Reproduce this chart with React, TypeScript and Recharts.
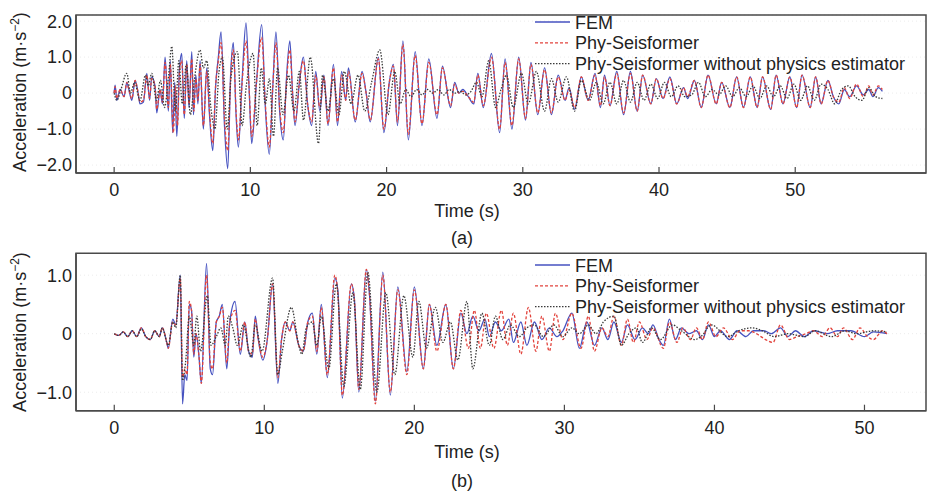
import { LineChart, Line, XAxis, YAxis, CartesianGrid, ReferenceArea } from 'recharts';

const FONT = '"Liberation Sans", Arial, Helvetica, sans-serif';

// (t [s], acceleration [m/s^2]) pairs
const femA: [number, number][] = [[0,0],[0.07,0.22],[0.2,-0.2],[0.44,0.1],[0.73,-0.1],[0.93,0.3],[1.05,0.15],[1.3,-0.2],[1.54,0.35],[1.74,0.05],[1.9,-0.3],[2.15,-0.25],[2.4,0.55],[2.6,-0.2],[2.76,0.45],[3.0,0.2],[3.13,-0.55],[3.37,0.1],[3.55,-0.3],[3.74,1.0],[3.98,-0.5],[4.12,0.9],[4.3,-1.1],[4.45,0.3],[4.6,-1.2],[4.8,0.7],[4.96,1.1],[5.15,-0.7],[5.33,0.9],[5.5,-0.4],[5.7,1.15],[5.82,-0.6],[6.0,0.5],[6.15,-0.3],[6.31,0.9],[6.55,-1.0],[6.8,0.7],[7.0,-0.6],[7.24,-1.6],[7.45,0.2],[7.65,1.0],[7.85,1.7],[8.1,-0.9],[8.34,-2.1],[8.55,0.5],[8.75,1.4],[8.95,-0.6],[9.12,-1.5],[9.4,0.4],[9.68,1.95],[9.9,0.2],[10.1,-1.4],[10.45,0.3],[10.83,1.9],[11.1,-0.4],[11.39,-1.7],[11.65,0.2],[11.88,1.7],[12.15,-0.5],[12.42,-1.3],[12.65,0.4],[12.9,1.45],[13.1,0.0],[13.28,-0.9],[13.6,0.3],[13.89,1.0],[14.2,-0.3],[14.5,-0.9],[14.8,0.6],[15.1,-0.5],[15.4,0.5],[15.7,-0.9],[16.1,0.8],[16.4,-0.9],[16.7,0.6],[17.0,-0.2],[17.2,0.7],[17.7,-0.8],[18.2,0.6],[18.5,0.0],[18.8,-0.8],[19.4,1.0],[19.8,-1.1],[20.2,0.3],[20.5,0.8],[20.8,-0.9],[21.2,1.45],[21.6,-1.3],[22.1,1.15],[22.6,-0.9],[23.1,0.95],[23.7,-0.7],[24.1,0.75],[24.7,-0.4],[25.0,0.3],[25.3,0.0],[25.6,0.1],[26.0,-0.1],[26.4,-0.3],[26.7,0.55],[27.1,-0.4],[27.7,1.1],[28.3,-1.1],[28.7,0.95],[29.2,-1.0],[29.7,1.0],[30.2,-0.75],[30.6,0.85],[31.1,-0.6],[31.6,0.7],[32.1,-0.6],[32.6,0.5],[33.1,-0.2],[33.4,0.15],[33.8,-0.45],[34.3,0.45],[34.8,-0.2],[35.3,0.55],[35.7,-0.4],[36.0,0.5],[36.4,-0.35],[36.9,0.6],[37.4,-0.6],[37.9,0.6],[38.4,-0.5],[38.8,0.5],[39.4,-0.3],[39.8,0.4],[40.3,-0.15],[40.8,0.45],[41.3,-0.3],[41.8,0.15],[42.1,-0.15],[42.6,0.35],[43.1,-0.4],[43.6,0.5],[44.2,-0.3],[44.6,0.3],[45.2,-0.4],[45.7,0.45],[46.2,-0.4],[46.7,0.45],[47.2,-0.4],[47.6,0.45],[48.2,-0.45],[48.6,0.5],[49.1,-0.3],[49.6,0.45],[50.1,-0.4],[50.5,0.5],[51.1,-0.4],[51.5,0.45],[51.9,-0.3],[52.4,0.35],[52.8,-0.1],[53.2,-0.3],[53.6,0.1],[54.0,-0.1],[54.5,0.2],[55.0,-0.05],[55.4,0.1],[55.7,-0.1],[56.1,0.15],[56.4,0.05]];

const phyA: [number, number][] = [[0,0],[0.07,0.18],[0.2,-0.15],[0.44,0.1],[0.73,-0.1],[0.93,0.3],[1.05,0.15],[1.3,-0.15],[1.54,0.35],[1.74,0.05],[1.9,-0.25],[2.15,-0.2],[2.4,0.5],[2.6,-0.15],[2.76,0.4],[3.0,0.2],[3.13,-0.45],[3.37,0.1],[3.55,-0.25],[3.74,0.85],[3.98,-0.4],[4.12,0.8],[4.35,-1.1],[4.5,0.2],[4.65,-0.9],[4.8,0.6],[4.96,0.9],[5.15,-0.6],[5.33,0.8],[5.5,-0.3],[5.7,0.95],[5.85,-0.5],[6.0,0.4],[6.15,-0.2],[6.31,0.8],[6.55,-0.9],[6.8,0.6],[7.0,-0.5],[7.24,-1.4],[7.45,0.2],[7.65,0.9],[7.85,1.4],[8.1,-0.7],[8.34,-1.6],[8.55,0.4],[8.75,1.2],[8.95,-0.5],[9.12,-1.3],[9.4,0.3],[9.68,1.45],[9.9,0.2],[10.1,-1.2],[10.45,0.3],[10.83,1.55],[11.1,-0.3],[11.39,-1.5],[11.65,0.2],[11.88,1.4],[12.15,-0.4],[12.42,-1.1],[12.65,0.3],[12.9,1.2],[13.1,0.0],[13.28,-0.8],[13.6,0.3],[13.89,0.9],[14.2,-0.3],[14.5,-0.8],[14.8,0.5],[15.1,-0.4],[15.4,0.45],[15.7,-0.85],[16.1,0.7],[16.4,-0.8],[16.7,0.5],[17.0,-0.2],[17.2,0.6],[17.7,-0.75],[18.2,0.55],[18.5,0.0],[18.8,-0.75],[19.4,0.95],[19.8,-1.0],[20.2,0.3],[20.5,0.75],[20.8,-0.8],[21.2,1.35],[21.6,-1.15],[22.1,1.05],[22.6,-0.85],[23.1,0.85],[23.7,-0.6],[24.1,0.7],[24.7,-0.35],[25.0,0.25],[25.3,0.0],[25.6,0.05],[26.0,-0.1],[26.4,-0.25],[26.7,0.5],[27.1,-0.35],[27.7,1.0],[28.3,-1.0],[28.7,0.85],[29.2,-0.9],[29.7,0.95],[30.2,-0.7],[30.6,0.8],[31.1,-0.55],[31.6,0.65],[32.1,-0.55],[32.6,0.45],[33.1,-0.2],[33.4,0.1],[33.8,-0.4],[34.3,0.45],[34.8,-0.2],[35.3,0.5],[35.7,-0.35],[36.0,0.45],[36.4,-0.35],[36.9,0.55],[37.4,-0.55],[37.9,0.55],[38.4,-0.5],[38.8,0.5],[39.4,-0.3],[39.8,0.4],[40.3,-0.15],[40.8,0.4],[41.3,-0.3],[41.8,0.15],[42.1,-0.1],[42.6,0.35],[43.1,-0.4],[43.6,0.5],[44.2,-0.3],[44.6,0.3],[45.2,-0.4],[45.7,0.45],[46.2,-0.4],[46.7,0.45],[47.2,-0.4],[47.6,0.45],[48.2,-0.45],[48.6,0.5],[49.1,-0.3],[49.6,0.45],[50.1,-0.4],[50.5,0.5],[51.1,-0.4],[51.5,0.45],[51.9,-0.3],[52.4,0.35],[52.8,-0.1],[53.2,-0.25],[53.6,0.15],[54.0,-0.15],[54.5,0.25],[55.0,-0.1],[55.4,0.2],[55.7,-0.05],[56.1,0.2],[56.4,0.1]];

const noPhyA: [number, number][] = [[0,0],[0.2,-0.2],[0.5,0.1],[0.93,0.55],[1.2,0.0],[1.5,0.3],[1.9,-0.2],[2.3,0.5],[2.5,0.2],[2.76,0.55],[3.1,-0.2],[3.4,0.35],[3.7,-0.4],[4.0,0.5],[4.23,1.3],[4.5,-0.5],[4.75,0.9],[5.0,-0.3],[5.3,0.8],[5.6,-0.6],[5.9,0.4],[6.31,1.2],[6.55,0.7],[6.8,0.9],[7.1,-0.4],[7.4,-1.0],[7.7,0.6],[7.95,1.0],[8.3,-1.0],[8.6,0.5],[9.05,1.15],[9.4,-0.9],[9.7,0.2],[10.2,1.1],[10.5,-0.9],[10.8,0.7],[11.1,-0.3],[11.4,0.4],[11.7,-1.2],[12.0,0.7],[12.4,-0.6],[12.8,0.5],[13.2,-0.5],[13.6,0.6],[13.9,-0.75],[14.4,1.0],[15.0,-1.4],[15.3,0.5],[15.7,-0.5],[16.1,0.4],[16.5,-0.6],[16.9,0.6],[17.4,-0.3],[17.9,0.5],[18.4,-0.5],[18.9,0.3],[19.5,1.2],[20.1,-0.6],[20.6,0.6],[21.0,-0.3],[21.4,0.1],[21.8,-0.1],[22.2,0.1],[22.6,-0.05],[23.0,0.1],[23.4,0.0],[23.8,0.1],[24.2,-0.05],[24.6,0.1],[25.0,0.0],[25.4,0.05],[25.8,-0.05],[26.2,0.05],[26.6,0.3],[27.0,-0.1],[27.5,0.9],[28.0,-0.4],[28.4,0.1],[28.8,0.5],[29.3,-0.4],[29.9,0.55],[30.4,-0.3],[31.0,0.6],[31.6,-0.5],[32.1,0.4],[32.6,-0.25],[33.2,0.45],[33.8,-0.5],[34.3,0.35],[34.9,-0.2],[35.4,0.3],[35.9,-0.3],[36.4,0.3],[36.9,-0.3],[37.4,0.35],[37.9,-0.25],[38.4,0.3],[38.9,-0.2],[39.4,0.25],[39.9,-0.15],[40.4,0.3],[40.9,-0.1],[41.4,0.2],[41.9,-0.1],[42.4,-0.05],[42.9,0.3],[43.4,-0.1],[43.9,0.1],[44.4,-0.05],[44.9,0.2],[45.4,-0.1],[45.9,0.15],[46.4,-0.1],[46.9,0.2],[47.4,-0.15],[47.9,0.2],[48.4,-0.1],[48.9,0.2],[49.4,-0.15],[49.9,0.25],[50.4,-0.2],[50.9,0.2],[51.4,-0.2],[51.9,0.25],[52.4,0.1],[52.9,-0.3],[53.4,0.1],[53.9,0.2],[54.4,-0.1],[54.9,-0.2],[55.4,0.15],[55.9,-0.1],[56.4,-0.15]];

const femB: [number, number][] = [[0,0],[0.3,-0.03],[0.6,0.03],[0.9,-0.05],[1.2,0.05],[1.5,-0.05],[1.8,0.1],[2.1,-0.05],[2.4,-0.1],[2.7,0.05],[3.0,-0.05],[3.2,0.1],[3.5,-0.15],[3.6,-0.25],[3.9,0.25],[4.1,0.15],[4.4,1.0],[4.55,-1.2],[4.7,-0.7],[4.85,-0.8],[5.0,0.5],[5.15,0.4],[5.3,-0.4],[5.45,0.0],[5.65,-0.4],[5.8,-0.85],[6.15,1.2],[6.4,-0.6],[6.55,-0.7],[6.8,0.2],[7.0,0.3],[7.2,0.5],[7.5,-0.6],[7.7,0.2],[8.05,0.55],[8.4,-0.35],[8.7,0.2],[8.95,-0.3],[9.2,-0.4],[9.4,0.3],[9.6,-0.1],[9.9,-0.45],[10.2,-0.1],[10.55,0.85],[10.9,-0.85],[11.15,-0.1],[11.4,0.2],[11.7,0.05],[11.9,0.2],[12.3,-0.2],[12.6,-0.3],[12.9,0.2],[13.2,0.35],[13.5,-0.35],[13.8,0.5],[14.2,-0.75],[14.7,0.95],[14.9,0.75],[15.2,-1.1],[15.8,0.85],[16.0,0.6],[16.3,-1.0],[16.8,1.1],[17.0,0.7],[17.4,-1.15],[17.9,1.05],[18.4,-1.05],[18.9,0.8],[19.5,-0.65],[20.0,0.8],[20.6,-0.6],[21.0,0.5],[21.5,-0.2],[22.1,0.5],[22.6,-0.6],[23.1,0.35],[23.5,0.0],[23.9,0.3],[24.3,0.05],[24.7,0.25],[25.0,-0.05],[25.4,0.2],[25.8,0.05],[26.3,0.25],[26.6,-0.15],[27.1,0.2],[27.5,-0.2],[28.0,0.2],[28.5,-0.1],[29.0,0.1],[29.5,-0.05],[29.9,0.05],[30.5,0.35],[31.0,-0.25],[31.5,0.2],[32.0,-0.2],[32.5,0.1],[32.9,-0.1],[33.3,0.2],[33.8,-0.15],[34.2,0.15],[34.7,-0.1],[35.2,0.1],[35.6,0.0],[35.9,0.15],[36.3,-0.1],[36.6,-0.2],[37.0,0.25],[37.4,-0.1],[37.8,0.1],[38.3,0.0],[38.8,0.05],[39.2,-0.1],[39.6,0.15],[40.0,-0.05],[40.4,0.05],[41.0,-0.1],[41.5,0.05],[42.1,-0.05],[42.6,0.05],[43.3,0.05],[43.8,0.0],[44.4,0.1],[44.9,-0.05],[45.4,0.05],[46.0,-0.05],[46.6,0.05],[47.5,0.0],[48.2,0.05],[49.1,0.05],[50.0,-0.05],[50.6,0.03],[51.5,0.0]];

const phyB: [number, number][] = [[0,0],[0.3,-0.03],[0.6,0.03],[0.9,-0.05],[1.2,0.05],[1.5,-0.05],[1.8,0.1],[2.1,-0.05],[2.4,-0.1],[2.7,0.05],[3.0,-0.05],[3.2,0.1],[3.5,-0.15],[3.6,-0.25],[3.9,0.2],[4.1,0.15],[4.4,0.95],[4.55,-0.75],[4.7,-0.6],[4.85,-0.7],[5.0,0.55],[5.15,0.4],[5.3,-0.35],[5.45,0.0],[5.65,-0.4],[5.8,-0.85],[6.15,1.0],[6.4,-0.5],[6.55,-0.6],[6.8,0.2],[7.0,0.3],[7.2,0.45],[7.5,-0.5],[7.7,0.2],[8.05,0.4],[8.4,-0.3],[8.7,0.2],[8.95,-0.3],[9.2,-0.35],[9.4,0.25],[9.6,-0.1],[9.9,-0.4],[10.2,-0.1],[10.55,0.85],[10.9,-0.75],[11.15,-0.1],[11.4,0.2],[11.7,0.05],[11.9,0.2],[12.3,-0.2],[12.6,-0.3],[12.9,0.2],[13.2,0.3],[13.5,-0.3],[13.8,0.45],[14.2,-0.7],[14.7,1.0],[14.9,0.7],[15.2,-1.05],[15.8,0.85],[16.0,0.6],[16.3,-0.95],[16.8,1.1],[17.0,0.7],[17.4,-1.2],[17.9,1.0],[18.4,-1.0],[18.9,0.75],[19.5,-0.7],[20.0,0.75],[20.6,-0.6],[21.0,0.5],[21.5,-0.3],[22.1,0.5],[22.6,-0.6],[23.1,0.4],[23.6,-0.25],[24.0,0.4],[24.4,-0.25],[24.8,0.35],[25.3,-0.25],[25.8,0.4],[26.2,-0.2],[26.6,0.35],[27.1,-0.35],[27.6,0.45],[28.1,-0.3],[28.5,0.3],[29.0,-0.3],[29.4,0.35],[29.9,-0.1],[30.5,0.35],[31.1,-0.25],[31.6,0.3],[32.0,-0.3],[32.5,0.1],[32.9,-0.05],[33.3,0.3],[33.8,-0.2],[34.2,0.25],[34.6,-0.15],[35.0,0.2],[35.5,-0.1],[35.9,0.1],[36.6,-0.25],[37.0,0.2],[37.5,-0.15],[37.9,0.1],[38.4,-0.1],[38.8,0.1],[39.2,-0.1],[39.6,0.2],[40.1,-0.05],[40.6,0.1],[41.2,-0.1],[41.7,0.05],[42.3,0.05],[42.8,0.0],[43.4,-0.1],[43.9,-0.15],[44.4,0.15],[45.0,-0.1],[45.5,-0.05],[46.1,0.0],[46.6,0.05],[47.2,-0.05],[47.7,0.1],[48.2,-0.05],[48.6,0.1],[49.2,-0.1],[49.7,0.1],[50.2,-0.05],[50.6,-0.1],[51.2,0.05],[51.5,0.0]];

const noPhyB: [number, number][] = [[0,0],[0.3,-0.03],[0.6,0.03],[0.9,-0.05],[1.2,0.05],[1.5,-0.05],[1.8,0.08],[2.1,-0.05],[2.4,-0.1],[2.7,0.05],[3.0,-0.05],[3.2,0.1],[3.5,-0.15],[3.6,-0.2],[3.9,0.2],[4.1,0.1],[4.4,1.0],[4.55,-0.8],[4.75,-0.5],[5.0,0.3],[5.3,-0.2],[5.5,0.3],[5.75,-0.3],[6.2,0.65],[6.45,-0.2],[6.8,-0.05],[7.1,0.1],[7.4,-0.2],[7.6,0.3],[7.9,0.1],[8.2,-0.2],[8.6,0.15],[9.1,-0.4],[9.4,0.15],[9.85,-0.3],[10.55,0.95],[10.9,-0.7],[11.2,-0.3],[11.8,0.45],[12.3,-0.2],[12.5,-0.35],[12.8,0.1],[13.2,0.2],[13.5,-0.2],[13.8,0.3],[14.3,-0.6],[14.8,0.85],[15.3,-0.9],[15.9,0.7],[16.4,-0.95],[16.9,1.05],[17.5,-1.0],[18.1,0.7],[18.7,-0.7],[19.3,0.65],[19.9,-0.4],[20.3,0.55],[20.8,-0.25],[21.4,0.45],[21.9,-0.15],[22.4,0.2],[22.9,-0.45],[23.5,0.55],[23.9,-0.6],[24.5,0.35],[25.0,-0.2],[25.4,0.3],[25.9,-0.1],[26.4,0.15],[27.0,-0.05],[27.5,0.1],[28.0,0.15],[28.6,-0.05],[29.3,0.15],[29.9,-0.05],[30.5,0.1],[31.0,0.0],[31.6,0.15],[32.1,0.0],[32.6,0.2],[33.3,0.3],[33.8,-0.2],[34.3,0.0],[34.8,0.1],[35.2,-0.15],[35.8,0.1],[36.4,-0.1],[37.2,0.15],[37.8,0.05],[38.7,-0.1],[39.1,-0.05],[39.8,0.15],[40.9,-0.05],[41.6,0.05],[42.5,0.1],[43.2,0.05],[44.0,-0.05],[44.9,0.0],[46.0,-0.05],[46.7,0.05],[47.8,-0.05],[48.7,0.05],[49.5,0.0],[50.6,0.05],[51.5,0.03]];

const seriesNames = ['FEM', 'Phy-Seisformer', 'Phy-Seisformer without physics estimator'];
const xTicksA = [0, 10, 20, 30, 40, 50];
const yTicksA = [-2, -1, 0, 1, 2];
const xTicksB = [0, 10, 20, 30, 40, 50];
const yTicksB = [-1, 0, 1];

const rows = (pts: [number, number][]) => pts.map(([t, v]) => ({ t, v }));

const COLORS = ['#4652c0', '#e2433c', '#3a3a3a'];
const DASH = [undefined, '3 2', '1.5 1.5'];
const AXIS = '#4a4a4a';

const fmtY = (v: number) => (v === 0 ? '0' : (v < 0 ? '\u2212' : '') + Math.abs(v).toFixed(1));

const XTick = (props: any) => {
  const { x, y, payload } = props;
  return (
    <g>
      <line x1={x} x2={x} y1={y} y2={y - 6} stroke={AXIS} strokeWidth={1.2} />
      <text x={x} y={y + 23} textAnchor="middle" fontSize={18} fontFamily={FONT} fill="#222">
        {payload.value}
      </text>
    </g>
  );
};

type PanelProps = {
  top: number;
  height: number;
  plotTop: number;
  plotBottom: number;
  xDomain: [number, number];
  yDomain: [number, number];
  xTicks: number[];
  yTicks: number[];
  series: [number, number][][];
};

function Panel({ top, height, plotTop, plotBottom, xDomain, yDomain, xTicks, yTicks, series }: PanelProps) {
  const xH = 30;
  return (
    <div style={{ position: 'absolute', left: 0, top, width: 927, height }}>
      <LineChart
        width={927}
        height={height}
        margin={{ top: plotTop, right: 1, left: 0, bottom: height - plotBottom - xH }}
      >
        <CartesianGrid vertical={false} stroke="#ececec" strokeDasharray="1 3" />
        <XAxis
          dataKey="t"
          type="number"
          domain={xDomain}
          ticks={xTicks}
          allowDataOverflow
          height={xH}
          tickSize={0}
          tickMargin={0}
          tickLine={false}
          axisLine={{ stroke: AXIS, strokeWidth: 1.5 }}
          tick={<XTick />}
        />
        <YAxis
          type="number"
          domain={yDomain}
          ticks={yTicks}
          allowDataOverflow
          width={76}
          tickSize={0}
          tickMargin={4}
          tickLine={false}
          axisLine={{ stroke: AXIS, strokeWidth: 1.5 }}
          tickFormatter={fmtY}
          tick={{ fontSize: 18, fontFamily: FONT, fill: '#222' }}
        />
        <ReferenceArea x1={xDomain[0]} x2={xDomain[1]} y1={yDomain[0]} y2={yDomain[1]} fill="none" stroke={AXIS} strokeWidth={1.5} />
        {series.map((s, i) => (
          <Line
            key={seriesNames[i]}
            name={seriesNames[i]}
            data={rows(s)}
            dataKey="v"
            type="monotone"
            stroke={COLORS[i]}
            strokeWidth={1.3}
            strokeDasharray={DASH[i]}
            dot={false}
            isAnimationActive={false}
          />
        ))}
      </LineChart>
    </div>
  );
}

function LegendRows({ x, y }: { x: number; y: number }) {
  const gap = 20.8;
  return (
    <g>
      {seriesNames.map((n, i) => (
        <g key={n}>
          <line x1={x} x2={x + 35} y1={y + i * gap} y2={y + i * gap} stroke={COLORS[i]} strokeWidth={1.3} strokeDasharray={DASH[i]} />
          <text x={x + 40} y={y + 6.5 + i * gap} fontSize={18} fontFamily={FONT} fill="#222">{n}</text>
        </g>
      ))}
    </g>
  );
}

function Titles() {
  const yLabel = (cx: number, cy: number) => (
    <text x={cx} y={cy} transform={`rotate(-90 ${cx} ${cy})`} textAnchor="middle" fontSize={18} fontFamily={FONT} fill="#222">
      Acceleration (m·s<tspan fontSize={12} dy={-7}>{'\u2212'}2</tspan><tspan dy={7}>)</tspan>
    </text>
  );
  return (
    <svg width={927} height={492} style={{ position: 'absolute', left: 0, top: 0, pointerEvents: 'none' }}>
      {yLabel(26, 92)}
      {yLabel(26, 332)}
      <LegendRows x={535} y={22} />
      <LegendRows x={535} y={265} />
      <text x={467} y={217} textAnchor="middle" fontSize={18} fontFamily={FONT} fill="#222">Time (s)</text>
      <text x={462} y={244} textAnchor="middle" fontSize={18} fontFamily={FONT} fill="#222">(a)</text>
      <text x={467} y={458} textAnchor="middle" fontSize={18} fontFamily={FONT} fill="#222">Time (s)</text>
      <text x={462} y={487} textAnchor="middle" fontSize={18} fontFamily={FONT} fill="#222">(b)</text>
    </svg>
  );
}

export default function App() {
  return (
    <div style={{ position: 'absolute', left: 0, top: 0, width: 927, height: 492, background: '#fff', overflow: 'hidden' }}>
      <Panel
        top={0}
        height={250}
        plotTop={15}
        plotBottom={173}
        xDomain={[-2.8, 59.6]}
        yDomain={[-2.22, 2.17]}
        xTicks={xTicksA}
        yTicks={yTicksA}
        series={[femA, phyA, noPhyA]}
      />
      <Panel
        top={240}
        height={252}
        plotTop={13.3}
        plotBottom={170.7}
        xDomain={[-2.55, 54.1]}
        yDomain={[-1.316, 1.374]}
        xTicks={xTicksB}
        yTicks={yTicksB}
        series={[femB, phyB, noPhyB]}
      />
      <Titles />
    </div>
  );
}
